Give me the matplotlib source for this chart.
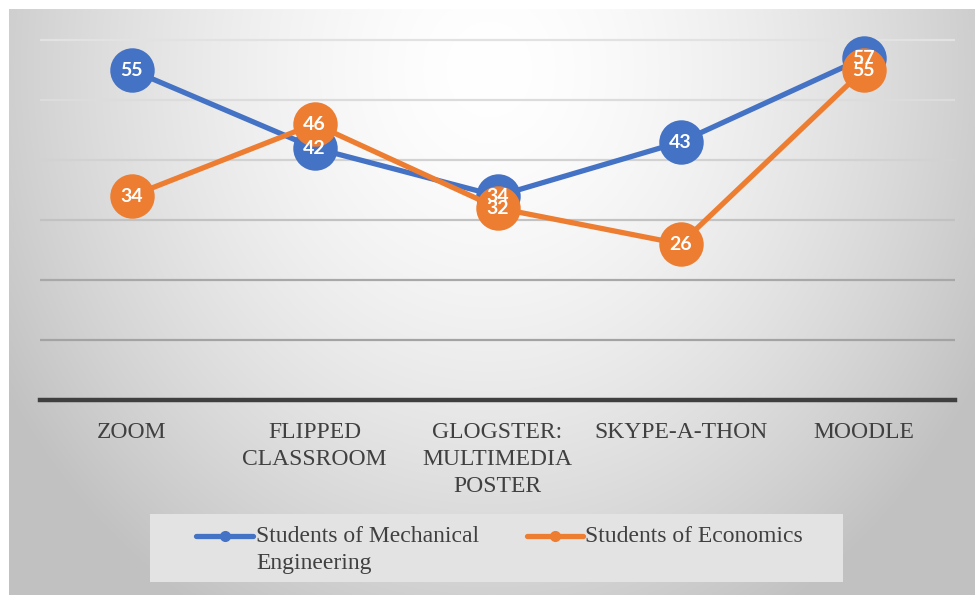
import numpy as np
import matplotlib
matplotlib.use("Agg")
import matplotlib.pyplot as plt
from matplotlib.lines import Line2D
from matplotlib.patches import Rectangle

categories = ["ZOOM", "FLIPPED\nCLASSROOM", "GLOGSTER:\nMULTIMEDIA\nPOSTER", "SKYPE-A-THON", "MOODLE"]
mech_values = [55, 42, 34, 43, 57]
econ_values = [34, 46, 32, 26, 55]
series_names = ["Students of Mechanical\nEngineering", "Students of Economics"]
grid_levels = [10, 20, 30, 40, 50, 60]

BLUE = "#4472C4"
ORANGE = "#ED7D31"
W, H = 975, 595
fig = plt.figure(figsize=(W / 100, H / 100), dpi=100)
fig.patch.set_facecolor("white")

# background frame with radial gradient
bx0, by0 = 9, 9
bg = fig.add_axes([bx0 / W, 0, (W - bx0) / W, (H - by0) / H], zorder=-10)
yy, xx = np.mgrid[0:H - by0, 0:W - bx0]
r = np.sqrt(((xx - 480) / 500.0) ** 2 + ((yy - 60) / 560.0) ** 2)
g = 1.0 - 0.20 * np.clip(r, 0, 1.3) ** 1.6
g = np.clip(g, 0.76, 1.0)
bg.imshow(np.dstack([g, g, g]), aspect="auto", interpolation="bilinear")
bg.set_axis_off()

# main axes
ax_l, ax_r, ax_b, ax_t = 40, 955, 400, 10
ax = fig.add_axes([ax_l / W, 1 - ax_b / H, (ax_r - ax_l) / W, (ax_b - ax_t) / H])
ax.set_facecolor("none")
ax.set_xlim(-0.5, len(categories) - 0.5)
ax.set_ylim(0, 65)

grid_colors = ["#a3a3a3", "#a8a8a8", "#c2c2c2", "#d2d2d2", "#dcdcdc", "#e2e2e2"]
for lvl, c in zip(grid_levels, grid_colors):
    ax.axhline(lvl, color=c, lw=1.6, zorder=1)

for s in ["top", "right", "left"]:
    ax.spines[s].set_visible(False)
ax.spines["bottom"].set_color("#3f3f3f")
ax.spines["bottom"].set_linewidth(3.2)

x = np.arange(len(categories))
ax.plot(x, mech_values, color=BLUE, lw=3.8, marker="o", markersize=32,
        markeredgewidth=0, zorder=3, clip_on=False)
ax.plot(x, econ_values, color=ORANGE, lw=3.8, marker="o", markersize=32,
        markeredgewidth=0, zorder=4, clip_on=False)
for xi, v in zip(x, mech_values):
    ax.text(xi, v, str(v), ha="center", va="center", color="white",
            fontsize=14, fontweight="bold", family="Lato", zorder=6)
for xi, v in zip(x, econ_values):
    ax.text(xi, v, str(v), ha="center", va="center", color="white",
            fontsize=14, fontweight="bold", family="Lato", zorder=6)

ax.set_yticks([])
ax.set_xticks(x)
ax.set_xticklabels(categories, family="Liberation Serif", fontsize=17,
                   color="#404040", linespacing=1.38)
ax.tick_params(axis="x", length=0, pad=16)

# legend
fig.add_artist(Rectangle((150 / W, 1 - 582 / H), (843 - 150) / W, (582 - 514) / H,
                         transform=fig.transFigure, facecolor="#e3e3e3",
                         edgecolor="none", zorder=5))
for (hx0, hx1, tx), col, name in zip([(196, 253, 256), (527, 583, 585)],
                                     [BLUE, ORANGE], series_names):
    yl = 1 - 536 / H
    fig.add_artist(Line2D([hx0 / W, hx1 / W], [yl, yl], color=col, lw=3.8,
                          solid_capstyle="round", transform=fig.transFigure, zorder=6))
    fig.add_artist(Line2D([(hx0 + hx1) / 2 / W], [yl], color=col, marker="o",
                          markersize=8, markeredgewidth=0,
                          transform=fig.transFigure, zorder=7))
    fig.text(tx / W, 1 - 526 / H, name, ha="left", va="top",
             family="Liberation Serif", fontsize=17, color="#404040",
             linespacing=1.38, zorder=7)

fig.savefig("out.png", dpi=100)
